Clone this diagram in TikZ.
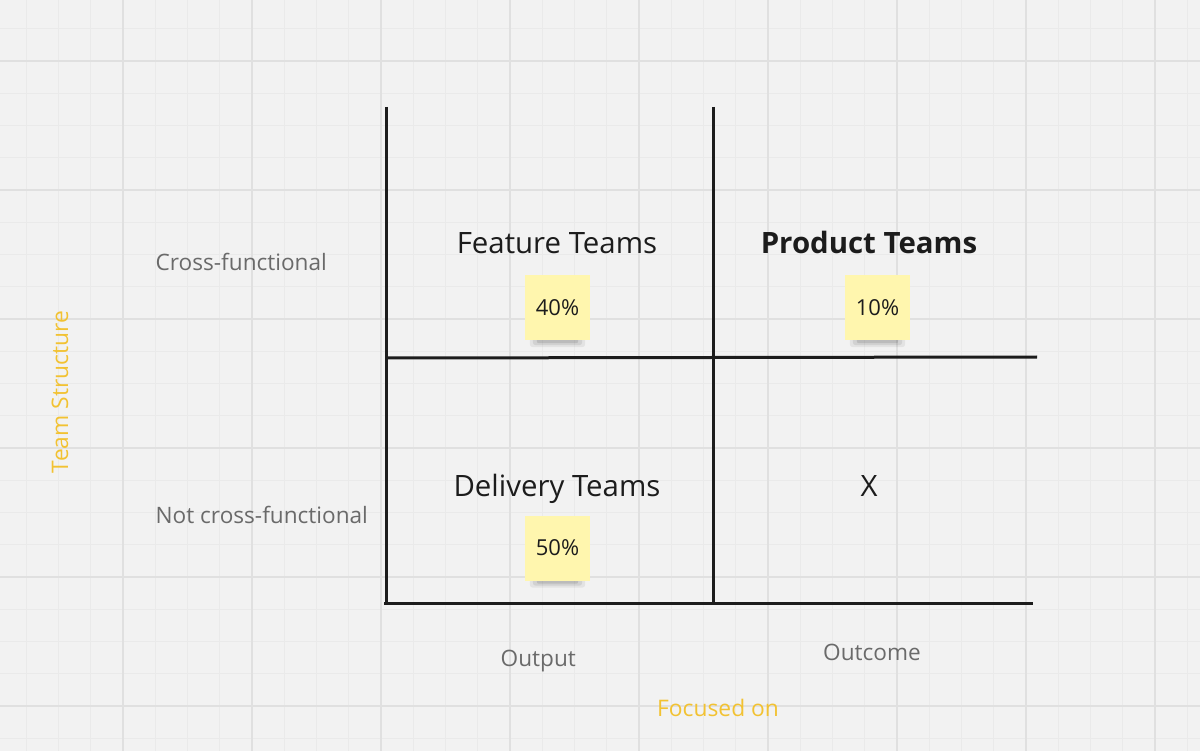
\documentclass[tikz,border=0pt]{standalone}
\usepackage{fontspec}
\setmainfont{Open Sans}
\definecolor{bg}{HTML}{F2F2F2}
\definecolor{gminor}{HTML}{EAEAEA}
\definecolor{gmajor}{HTML}{E0E0E0}
\definecolor{ink}{HTML}{1C1C1C}
\definecolor{greytext}{HTML}{6A6A6A}
\definecolor{yel}{HTML}{F2C232}
\definecolor{sticky}{HTML}{FFF6AE}
\tikzset{
  minorline/.style={gminor, line width=1pt},
  majorline/.style={gmajor, line width=1.5pt},
  axisline/.style={ink, line width=3pt},
  title/.style={inner sep=0pt, anchor=base, text=ink, font=\fontsize{29.4}{35}\selectfont},
  sidelabel/.style={inner sep=0pt, anchor=base west, text=greytext, font=\fontsize{22.6}{27}\selectfont},
  axistitle/.style={inner sep=0pt, text=yel, font=\fontsize{22.8}{27}\selectfont},
  note/.style={rectangle, minimum width=65pt, minimum height=65pt, inner sep=0pt, fill=sticky, text=ink, font=\fontsize{22}{26}\selectfont},
}
\newcommand{\noteshadow}[1]{%
  \fill[black, opacity=0.06, rounded corners=3pt] ([xshift=5pt,yshift=4pt]#1.south west) rectangle ([xshift=-5pt,yshift=-7pt]#1.south east);
  \fill[black, opacity=0.08, rounded corners=3pt] ([xshift=8pt,yshift=3pt]#1.south west) rectangle ([xshift=-8pt,yshift=-5pt]#1.south east);
  \fill[black, opacity=0.10, rounded corners=2pt] ([xshift=12pt,yshift=2pt]#1.south west) rectangle ([xshift=-12pt,yshift=-3pt]#1.south east);
}
\begin{document}
\begin{tikzpicture}[x=1pt,y=-1pt]
\useasboundingbox (0,0) rectangle (1200,751);
\fill[bg] (0,0) rectangle (1200,751);
% grid
\foreach \i in {0,...,36} \draw[minorline] ({26.25+32.25*\i},0) -- ++(0,751);
\foreach \i in {0,...,22} \draw[minorline] (0,{28.75+32.25*\i}) -- ++(1200,0);
\foreach \x in {123,252,381,510,639,768,897,1026,1155} \draw[majorline] (\x,0) -- ++(0,751);
\foreach \y in {61,190,319,448,577,706} \draw[majorline] (0,\y) -- ++(1200,0);

% axis coordinates
\coordinate (lt) at (386,107);
\coordinate (lb) at (386,604);
\coordinate (mt) at (713,107);
\coordinate (mb) at (713,604);
\coordinate (hl) at (386,358);
\coordinate (hr) at (1037,357);
\coordinate (bl) at (384,603);
\coordinate (br) at (1033,603);
\draw[axisline] (lt) -- (lb);
\draw[axisline] (mt) -- (mb);
\draw[axisline] (hl) -- (hr);
\draw[axisline] (bl) -- (br);

% titles
\node[title] (ft) at (557,254) {Feature Teams};
\node[title, font=\fontsize{29.4}{35}\selectfont\bfseries] (pt) at (869,254) {Product Teams};
\node[title] (dt) at (557,496) {Delivery Teams};
\node[title] (xx) at (869,496) {X};

% sticky notes
\coordinate (c40) at (557.5,307.5);
\coordinate (c10) at (877.5,307.5);
\coordinate (c50) at (557.5,548);
\node[note, opacity=0] (s40s) at (c40) {};
\node[note, opacity=0] (s10s) at (c10) {};
\node[note, opacity=0] (s50s) at (c50) {};
\noteshadow{s40s}
\noteshadow{s10s}
\noteshadow{s50s}
\node[note] (s40) at (c40) {40\%};
\node[note] (s10) at (c10) {10\%};
\node[note] (s50) at (c50) {50\%};

% side labels
\node[sidelabel] (cf) at (155.5,270.7) {Cross-functional};
\node[sidelabel] (ncf) at (155.5,523.3) {Not cross-functional};
\node[sidelabel] (out) at (500.5,666.7) {Output};
\node[sidelabel] (oc) at (823,660.7) {Outcome};

% axis titles
\node[axistitle, anchor=base west] (fo) at (657,716.7) {Focused on};
\node[axistitle, anchor=base, rotate=90] (ts) at (68,392) {Team Structure};
\end{tikzpicture}
\end{document}
